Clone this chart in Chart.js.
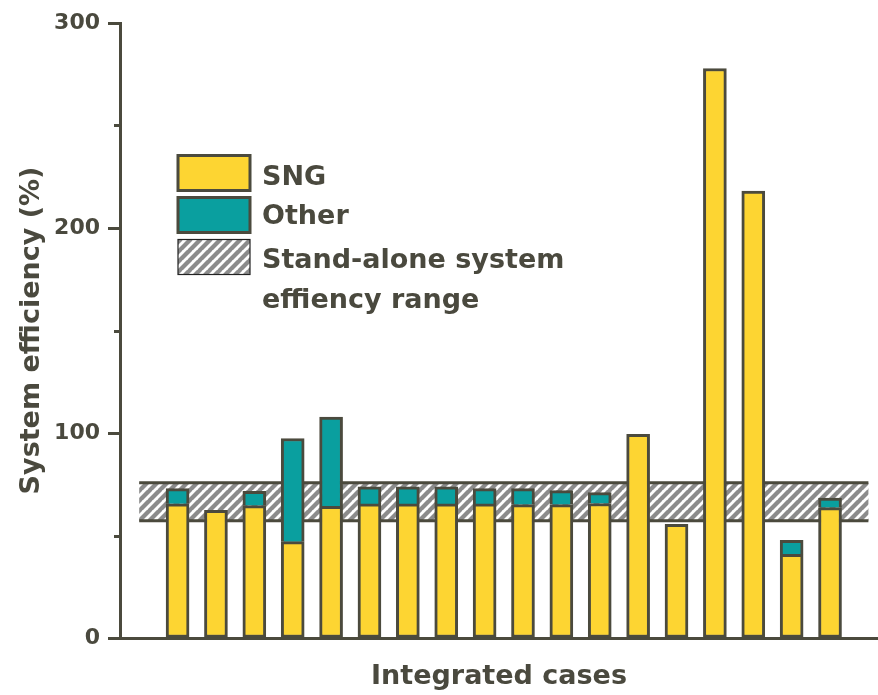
<!DOCTYPE html>
<html>
<head>
<meta charset="utf-8">
<script src="https://cdn.jsdelivr.net/npm/chart.js@4/dist/chart.umd.min.js"></script>
<style>
  html, body { margin: 0; padding: 0; background: #ffffff; }
  #wrap { width: 878px; height: 695px; position: relative; }
</style>
</head>
<body>
<div id="wrap"><canvas id="chart" width="878" height="695"></canvas></div>
<script>
// Integrated cases, left to right
const caseIds = [1, 2, 3, 4, 5, 6, 7, 8, 9, 10, 11, 12, 13, 14, 15, 16, 17, 18];
// SNG share of system efficiency (%)
const sngValues = [65.5, 62.3, 64.6, 47.0, 64.2, 65.4, 65.4, 65.4, 65.4, 65.1, 65.1, 65.6, 99.3, 55.4, 277.8, 218.0, 40.8, 63.6];
// Other products (%), stacked on top of SNG
const otherValues = [7.4, null, 7.0, 50.3, 43.6, 8.3, 8.3, 8.3, 7.5, 7.8, 6.8, 5.3, null, null, null, null, 6.9, 4.7];
// Stand-alone system efficiency range (%), and the case span it covers
const standAloneRange = [57.2, 75.7];
const standAloneSpan = [0, 19];
// Axis ticks
const yMajorTicks = [0, 100, 200, 300];
const yMinorTicks = [50, 150, 250];
// Legend entries
const legendLabels = ['SNG', 'Other', 'Stand-alone system', 'effiency range'];

const INK = '#4b4a3d';
const TEXT = '#4a493e';
const YELLOW = '#fdd532';
const TEAL = '#0a9f9f';
const FONT = 'DejaVu Sans';

// diagonal hatch tile for the stand-alone range
function makeHatch(size, lineW) {
  const c = document.createElement('canvas');
  c.width = size; c.height = size;
  const g = c.getContext('2d');
  g.fillStyle = '#ffffff';
  g.fillRect(0, 0, size, size);
  g.strokeStyle = '#8c8c8c';
  g.lineWidth = lineW;
  for (const k of [-size, 0, size]) {
    g.beginPath();
    g.moveTo(k - 1, size + 1);
    g.lineTo(k + size + 1, -1);
    g.stroke();
  }
  return c;
}

const canvas = document.getElementById('chart');
const ctx0 = canvas.getContext('2d');
const hatch = ctx0.createPattern(makeHatch(10, 4.3), 'repeat');

const toPoints = vals => caseIds.map((c, i) => ({ x: c, y: vals[i] }));

const rangeBand = {
  id: 'rangeBand',
  beforeDatasetsDraw(chart) {
    const { ctx, scales: { x, y } } = chart;
    const x0 = x.getPixelForValue(standAloneSpan[0]);
    const x1 = x.getPixelForValue(standAloneSpan[1]);
    const yTop = y.getPixelForValue(standAloneRange[1]);
    const yBot = y.getPixelForValue(standAloneRange[0]);
    ctx.save();
    ctx.fillStyle = hatch;
    ctx.fillRect(x0, yTop, x1 - x0, yBot - yTop);
    ctx.strokeStyle = INK;
    ctx.lineWidth = 3;
    ctx.beginPath();
    ctx.moveTo(x0, yTop); ctx.lineTo(x1, yTop);
    ctx.moveTo(x0, yBot); ctx.lineTo(x1, yBot);
    ctx.stroke();
    ctx.restore();
  }
};

const extras = {
  id: 'extras',
  afterDraw(chart) {
    const { ctx, scales: { y }, chartArea } = chart;
    ctx.save();
    // minor ticks on the value axis
    ctx.strokeStyle = INK;
    ctx.lineWidth = 3;
    for (const v of yMinorTicks) {
      const py = Math.round(y.getPixelForValue(v)) + 0.5;
      ctx.beginPath();
      ctx.moveTo(chartArea.left - 6, py);
      ctx.lineTo(chartArea.left, py);
      ctx.stroke();
    }
    // legend
    const bx = 178, bw = 72, bh = 35;
    const rows = [155.5, 197.5, 239.5];
    ctx.lineWidth = 3;
    ctx.strokeStyle = INK;
    ctx.fillStyle = YELLOW;
    ctx.fillRect(bx, rows[0], bw, bh);
    ctx.strokeRect(bx, rows[0], bw, bh);
    ctx.fillStyle = TEAL;
    ctx.fillRect(bx, rows[1], bw, bh);
    ctx.strokeRect(bx, rows[1], bw, bh);
    ctx.fillStyle = hatch;
    ctx.fillRect(bx, rows[2], bw, bh);
    ctx.lineWidth = 1.2;
    ctx.strokeStyle = '#222222';
    ctx.strokeRect(bx, rows[2], bw, bh);

    ctx.fillStyle = TEXT;
    ctx.font = 'bold 27px "' + FONT + '"';
    ctx.textBaseline = 'alphabetic';
    ctx.textAlign = 'left';
    const tx = 262;
    const baselines = [185, 223.5, 268, 308];
    legendLabels.forEach((t, i) => ctx.fillText(t, tx, baselines[i]));
    ctx.restore();
  }
};

new Chart(canvas, {
  type: 'bar',
  data: {
    datasets: [
      {
        label: 'SNG',
        data: toPoints(sngValues),
        backgroundColor: YELLOW,
        borderColor: INK,
        borderWidth: 3,
        borderSkipped: false,
        barThickness: 23
      },
      {
        label: 'Other',
        data: toPoints(otherValues),
        backgroundColor: TEAL,
        borderColor: INK,
        borderWidth: 3,
        borderSkipped: 'bottom',
        barThickness: 23
      }
    ]
  },
  options: {
    responsive: false,
    animation: false,
    layout: { padding: { top: 23, left: 0, right: 0, bottom: 0 } },
    plugins: {
      legend: { display: false },
      tooltip: { enabled: false }
    },
    scales: {
      x: {
        type: 'linear',
        stacked: true,
        offset: false,
        min: -0.5,
        max: 19.25,
        grid: { display: false },
        border: { display: true, color: INK, width: 3 },
        ticks: { display: false },
        title: {
          display: true,
          text: 'Integrated cases',
          color: TEXT,
          font: { family: FONT, weight: 'bold', size: 27 },
          padding: { top: 0, bottom: 2 }
        },
        afterFit(scale) { scale.height = 57; }
      },
      y: {
        stacked: true,
        min: 0,
        max: 300,
        afterBuildTicks(scale) { scale.ticks = yMajorTicks.map(v => ({ value: v })); },
        grid: {
          drawOnChartArea: false,
          drawTicks: true,
          tickLength: 12,
          tickWidth: 3,
          tickColor: INK
        },
        border: { display: true, color: INK, width: 3 },
        ticks: {
          color: TEXT,
          padding: 8,
          font: { family: FONT, weight: 'bold', size: 22 }
        },
        title: {
          display: true,
          text: 'System efficiency (%)',
          color: TEXT,
          font: { family: FONT, weight: 'bold', size: 27 },
          padding: { top: 16, bottom: 0 }
        },
        afterFit(scale) { scale.width = 120; }
      }
    }
  },
  plugins: [rangeBand, extras]
});
</script>
</body>
</html>
